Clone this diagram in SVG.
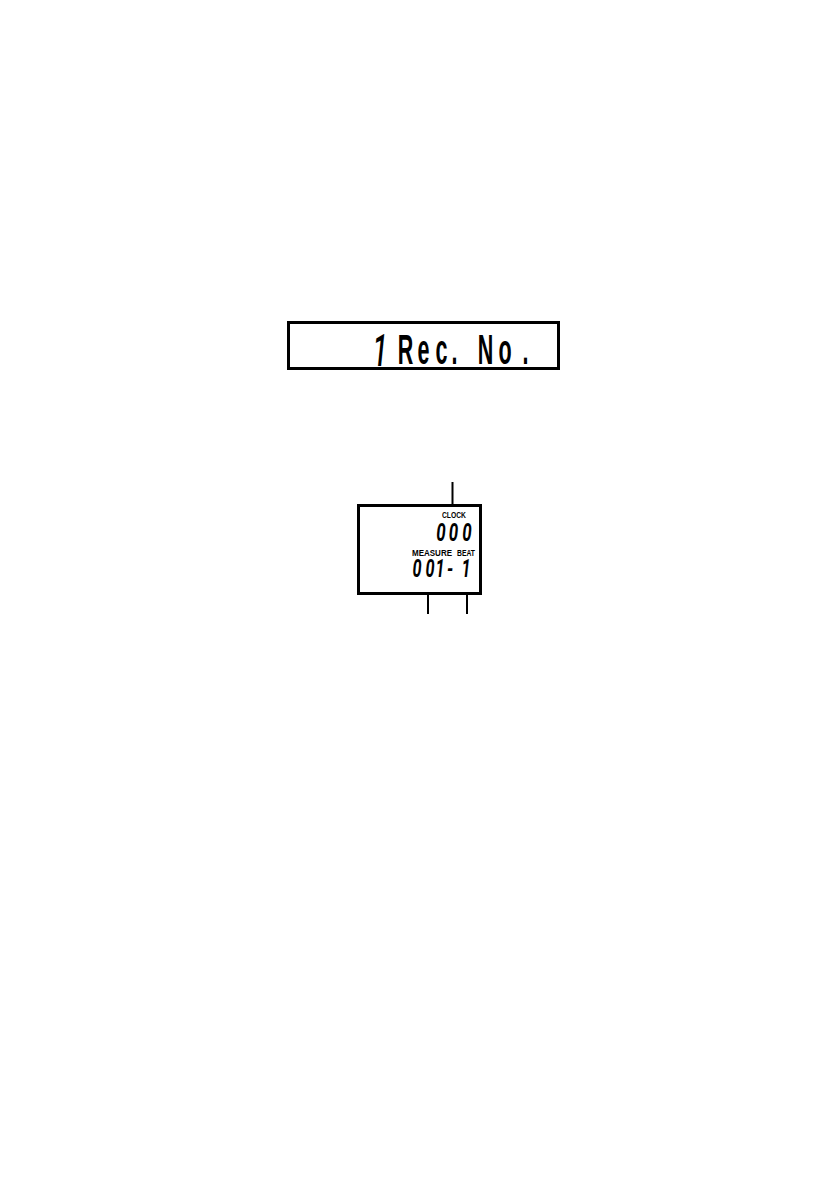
<svg xmlns="http://www.w3.org/2000/svg" width="840" height="1190" viewBox="0 0 840 1190">
<style>
.frame{fill:#fff;stroke:#000;stroke-width:3}
.lead{stroke:#000;stroke-width:2;fill:none}
.dm{font-family:"Liberation Sans",Arial,sans-serif;font-weight:bold;font-size:43px;fill:#000;text-anchor:middle}
.seg{font-family:Roboto,"Liberation Sans",sans-serif;font-style:italic;font-weight:bold;fill:#000;text-anchor:middle}
.big{font-weight:500}
.lbl{font-family:"Liberation Sans",Arial,sans-serif;font-weight:bold;font-size:9px;fill:#000}
</style>
<rect width="840" height="1190" fill="#fff"/>
<g id="display-rec-no">
<rect class="frame" x="288.5" y="322.5" width="270" height="46"/>
<text class="seg big" font-size="44" transform="translate(380,366) scale(0.6,1)">1</text>
<text class="dm" transform="scale(0.5,1)" x="811 847 883 909 971 1010 1051" y="364">Rec.No.</text>
</g>
<g id="display-clock">
<rect class="frame" x="358.5" y="505.5" width="122" height="88"/>
<text class="lbl" x="442" y="518" textLength="24" lengthAdjust="spacingAndGlyphs">CLOCK</text>
<text class="seg" font-size="26" transform="translate(0,541) scale(0.65,1)" x="678.46 697.69 718.46">000</text>
<text class="lbl" x="412" y="556" textLength="40" lengthAdjust="spacingAndGlyphs">MEASURE</text>
<text class="lbl" x="457" y="556" textLength="18" lengthAdjust="spacingAndGlyphs">BEAT</text>
<text class="seg" font-size="25" transform="translate(0,577) scale(0.65,1)" x="641.54 661.54 676.92 692.31 704.62 716.92">001- 1</text>
</g>
<g id="connectors">
<line class="lead" x1="452.5" y1="482" x2="452.5" y2="506"/>
<line class="lead" x1="428" y1="594" x2="428" y2="614"/>
<line class="lead" x1="467" y1="594" x2="467" y2="614"/>
</g>
</svg>
